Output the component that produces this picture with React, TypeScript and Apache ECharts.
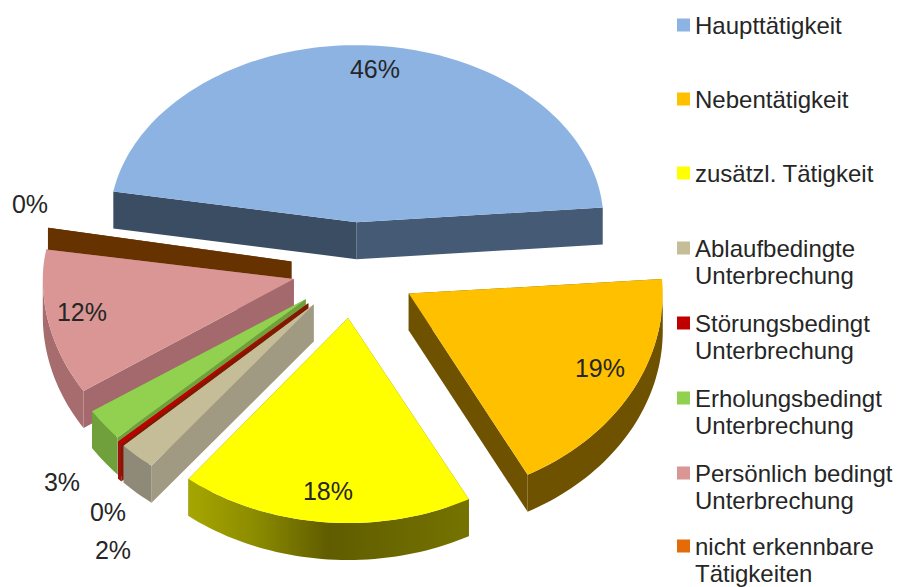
import React, { useEffect, useRef } from "react";
import * as echarts from "echarts";

// data
const categories = [
  "Haupttätigkeit",
  "Nebentätigkeit",
  "zusätzl. Tätigkeit",
  "Ablaufbedingte\nUnterbrechung",
  "Störungsbedingt\nUnterbrechung",
  "Erholungsbedingt\nUnterbrechung",
  "Persönlich bedingt\nUnterbrechung",
  "nicht erkennbare\nTätigkeiten",
];
const values = [46, 18.6, 18.4, 2.3, 0.3, 2.6, 11.9, 0.1];

// styles
const legendColors = ["#8db3e2", "#ffc000", "#ffff00", "#c4bd97", "#c00000", "#92d050", "#d99694", "#e36c09"];
const topColors = ["#8db3e2", "#ffc000", "#ffff00", "#c4bd97", "#c00000", "#92d050", "#d99694", "#663300"];
const grad = (stops: string[]) => ({
  type: "linear", x: 0, y: 0, x2: 1, y2: 0,
  colorStops: stops.map((color, i) => ({ offset: i / (stops.length - 1), color })),
});
const arcWallColors: any[] = [
  "#3d5068", "#6e5200",
  grad(["#a6a600", "#8a8a00", "#605c00", "#6a6800", "#757300"]),
  "#8f8a78", "#a01010", "#6fa03c", "#a66c6e", "#663300",
];
const startWallColors = ["#3a4d63", "#6e5200", "#6e6e00", "#a09a82", "#7f1a00", "#6fa03c", "#a4696d", "#663300"];
const endWallColors = ["#455a75", "#6e5200", "#6e6e00", "#a09a82", "#7f1a00", "#6fa03c", "#a4696d", "#663300"];

// layout
const START_ANGLE = -170;
const CENTER = [353.5, 269];
const DEPTH = 37;
const RY_BACK = 177;
const RY_FRONT = 205;
const radiiX = [247, 254, 258, 262, 258, 255, 251, 247];
const radiiYScale = [1, 1, 1, 1, 1, 1, 1, 1.1];
const explosions = [0.265, 0.25, 0.24, 0.235, 0.245, 0.24, 0.242, 0.25];
const zOrder = [1, 7, 8, 6, 5, 4, 3, 2];
const labelCenters = [
  [375, 69], [600, 368], [328, 491], [113, 550], [108, 512], [62, 482], [82, 312], [30, 204],
];
const FONT = "Liberation Sans";
const TEXT_COLOR = "#262626";
const ONE_LINE_ICON = "path://M0 0H13V13H0Z";
const TWO_LINE_ICON = "path://M0 0H13V13H0Z M0 40H13";

const total = values.reduce((a, b) => a + b, 0);
const sliceAngles = (i: number) => {
  const before = values.slice(0, i).reduce((a, b) => a + b, 0);
  return [START_ANGLE + (before / total) * 360, START_ANGLE + ((before + values[i]) / total) * 360];
};

const rad = (d: number) => (d * Math.PI) / 180;

const renderSlice = (i: number) => () => {
  const [t0, t1] = sliceAngles(i);
  const mid = rad((t0 + t1) / 2);
  const sm = Math.sin(mid);
  const ax = CENTER[0] + explosions[i] * 252 * Math.cos(mid);
  const ay = CENTER[1] + explosions[i] * (sm > 0 ? RY_FRONT : RY_BACK) * sm;
  const pt = (t: number, d = 0) => {
    const s = Math.sin(rad(t));
    return [
      ax + radiiX[i] * Math.cos(rad(t)),
      ay + (s > 0 ? RY_FRONT : RY_BACK) * radiiYScale[i] * s + d,
    ];
  };
  const sweep = (from: number, to: number) => {
    const steps = Math.max(2, Math.ceil((to - from) / 1.5));
    return Array.from({ length: steps + 1 }, (_, k) => from + ((to - from) * k) / steps);
  };
  const arc = sweep(t0, t1).map((t) => pt(t));
  const far0 = pt(t0);
  const far1 = pt(t1);
  const apex = [ax, ay];
  const apexLow = [ax, ay + DEPTH];
  const poly = (points: number[][], fill: any, z2: number) => ({
    type: "polygon", z2, shape: { points }, style: { fill, stroke: null },
  });
  const children: any[] = [
    poly([apex, far1, [far1[0], far1[1] + DEPTH], apexLow], endWallColors[i], 1),
    poly([apex, far0, [far0[0], far0[1] + DEPTH], apexLow], startWallColors[i], 2),
  ];
  // Only the front of the rim can be seen.
  const f0 = Math.max(t0, 0);
  const f1 = Math.min(t1, 180);
  if (f1 > f0) {
    const rim = sweep(f0, f1);
    children.push(
      poly(
        [...rim.map((t) => pt(t)), ...rim.slice().reverse().map((t) => pt(t, DEPTH))],
        arcWallColors[i],
        3
      )
    );
  }
  children.push(poly([apex, ...arc], topColors[i], 4));
  return { type: "group", children };
};

const percentLabels = values.map((v) => `${Math.round(v)}%`);

const labelSeries = {
  type: "custom",
  coordinateSystem: "none",
  silent: true,
  z: 20,
  data: percentLabels.map((l, i) => [i]),
  renderItem: (params: any) => {
    const i = params.dataIndex;
    return {
      type: "text",
      style: {
        text: percentLabels[i],
        x: labelCenters[i][0],
        y: labelCenters[i][1],
        fontSize: 25,
        fontFamily: FONT,
        fill: TEXT_COLOR,
        align: "center",
        verticalAlign: "middle",
      },
    };
  },
};

const legendText = { fontSize: 24, fontFamily: FONT, color: TEXT_COLOR, lineHeight: 27 };
const legendData = (from: number, to: number, icon: string) =>
  categories.slice(from, to).map((name, k) => ({
    name, icon, itemStyle: { color: legendColors[from + k], borderWidth: 0 },
  }));
const legendBlock = (top: number, itemGap: number, itemHeight: number, data: any[]) => ({
  orient: "vertical", left: 677, top, padding: 0, itemGap,
  itemWidth: 13, itemHeight, selectedMode: false,
  textStyle: legendText,
  data,
});

export default function App() {
  const ref = useRef<HTMLDivElement>(null);
  useEffect(() => {
    document.body.style.margin = "0";
    const chart = echarts.init(ref.current!, undefined, { renderer: "svg" });
    chart.setOption({
      animation: false,
      backgroundColor: "#ffffff",
      tooltip: { show: false },
      legend: [
        legendBlock(11.5, 47, 13, legendData(0, 3, ONE_LINE_ICON)),
        legendBlock(234.5, 21, 40, legendData(3, 7, TWO_LINE_ICON)),
        legendBlock(532.5, 21, 40, legendData(7, 8, TWO_LINE_ICON)),
      ],
      series: [
        ...categories.map((name, i) => ({
          type: "custom",
          name,
          coordinateSystem: "none",
          silent: true,
          z: zOrder[i],
          itemStyle: { color: legendColors[i] },
          data: [[values[i]]],
          renderItem: renderSlice(i),
        })),
        labelSeries,
      ],
    });
    return () => chart.dispose();
  }, []);
  return <div ref={ref} style={{ position: "absolute", left: 0, top: 0, width: 899, height: 587 }} />;
}
